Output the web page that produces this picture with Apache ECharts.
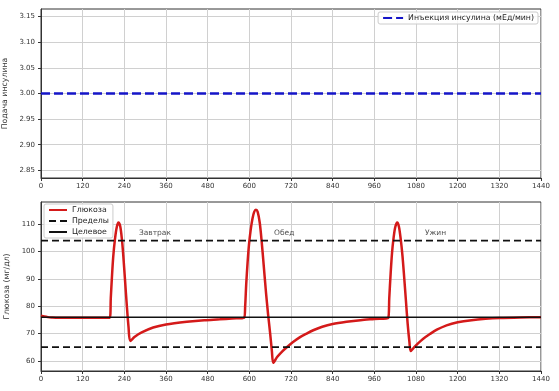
<!DOCTYPE html>
<html>
<head>
<meta charset="utf-8">
<script src="https://cdn.jsdelivr.net/npm/echarts@6/dist/echarts.min.js"></script>
<style>
html,body{margin:0;padding:0;background:#fff;}
#chart{width:559px;height:391px;}
</style>
</head>
<body>
<div id="chart"></div>
<script>
// ---- data ----
const xTicks = [0,120,240,360,480,600,720,840,960,1080,1200,1320,1440];
const insulinTicks = [2.85,2.90,2.95,3.00,3.05,3.10,3.15];
const glucoseTicks = [60,70,80,90,100,110];

const insulinTime = [0, 1440];
const insulinRate = [3.0, 3.0];

const glucoseTime = [
  0,10,20,30,50,100,150,198,
  201,204,208,213,218,223,228,233,237,242,247,252,257,
  270,290,323,360,420,470,515,550,585,
  588,591,595,599,604,609,614,619,624,630,636,642,648,654,660,665,669,
  680,695,708,725,745,765,784,810,840,880,920,960,1000,
  1003,1007,1011,1015,1020,1026,1031,1036,1041,1046,1051,1056,1061,1065,
  1075,1085,1100,1120,1140,1168,1200,1240,1280,1320,1380,1440
];
const glucoseValue = [
  76.5,76.2,76.0,75.9,75.8,75.8,75.8,75.8,
  83,90,98,104.5,108.8,110.6,109.3,104.5,98.5,89.5,80.5,72.5,67.3,
  68.8,70.4,72.2,73.3,74.3,74.9,75.2,75.5,75.8,
  80,88,96,102.5,108,112,114.5,115.3,114.5,110.5,103,94,85,77,70,63.5,59.3,
  61.4,63.5,65.0,66.8,68.6,70.0,71.2,72.5,73.5,74.3,74.9,75.3,75.7,
  83,92,99.5,104.5,108.8,110.6,109,104.5,98.5,90.5,82,73.5,67,63.6,
  65.0,66.3,68.0,69.8,71.4,73.0,74.1,74.9,75.4,75.7,75.9,76.0
];

const limitLevels = [65, 104];
const targetLevel = 76;

const mealNames = ['Завтрак', 'Обед', 'Ужин'];
const mealLabelTime = [282, 671, 1106];
const mealLabelLevel = [106.8, 106.8, 106.8];

const seriesNames = {
  insulin: 'Инъекция инсулина (мЕд/мин)',
  glucose: 'Глюкоза',
  limits: 'Пределы',
  target: 'Целевое'
};

// ---- chart ----
const FONT = 'DejaVu Sans';
const chart = echarts.init(document.getElementById('chart'), null, {renderer: 'canvas'});

function xAxis(gridIndex) {
  return {
    type: 'value', gridIndex, min: 0, max: 1440, interval: 120,
    axisLine: {show: true, onZero: false, lineStyle: {color: '#333', width: 1}},
    axisTick: {show: true, length: 3, lineStyle: {color: '#333'}},
    axisLabel: {fontSize: 7, color: '#333', fontFamily: FONT, margin: 5,
      formatter: v => String(v)},
    splitLine: {show: true, lineStyle: {color: '#d0d0d0', width: 1}}
  };
}

const pairs = (xs, ys) => xs.map((x, i) => [x, ys[i]]);

const gridBase = {left: 41, right: 18, height: 169, show: true, borderColor: '#333', borderWidth: 1,
  backgroundColor: 'transparent', containLabel: false, outerBoundsMode: 'none'};

const legendBase = {
  backgroundColor: 'rgba(255,255,255,0.85)', borderColor: '#cccccc', borderWidth: 1, borderRadius: 2,
  padding: [2, 4, 2, 4], itemHeight: 8,
  itemStyle: {color: 'transparent', borderWidth: 0, opacity: 0},
  textStyle: {fontSize: 7.8, color: '#222', fontFamily: FONT}
};

const option = {
  animation: false,
  backgroundColor: '#fff',
  textStyle: {fontFamily: FONT},
  grid: [
    Object.assign({}, gridBase, {top: 9}),
    Object.assign({}, gridBase, {top: 202})
  ],
  xAxis: [xAxis(0), xAxis(1)],
  yAxis: [
    {
      type: 'value', gridIndex: 0, min: 2.835, max: 3.165,
      name: 'Подача инсулина', nameLocation: 'middle', nameGap: 25,
      nameTextStyle: {fontSize: 7.8, color: '#333', fontFamily: FONT},
      axisLine: {show: true, lineStyle: {color: '#333'}},
      axisTick: {show: true, length: 3, customValues: insulinTicks, lineStyle: {color: '#333'}},
      axisLabel: {fontSize: 7, color: '#333', fontFamily: FONT, margin: 6,
        customValues: insulinTicks, formatter: v => v.toFixed(2)},
      splitLine: {show: true, lineStyle: {color: '#d0d0d0', width: 1}}
    },
    {
      type: 'value', gridIndex: 1, min: 56.3, max: 118.1,
      name: 'Глюкоза (мг/дл)', nameLocation: 'middle', nameGap: 25,
      nameTextStyle: {fontSize: 7.8, color: '#333', fontFamily: FONT},
      axisLine: {show: true, lineStyle: {color: '#333'}},
      axisTick: {show: true, length: 3, customValues: glucoseTicks, lineStyle: {color: '#333'}},
      axisLabel: {fontSize: 7, color: '#333', fontFamily: FONT, margin: 6,
        customValues: glucoseTicks},
      splitLine: {show: true, lineStyle: {color: '#d0d0d0', width: 1}}
    }
  ],
  legend: [
    Object.assign({}, legendBase, {
      data: [seriesNames.insulin],
      right: 21, top: 12, orient: 'horizontal', itemWidth: 20, itemGap: 4
    }),
    Object.assign({}, legendBase, {
      data: [seriesNames.glucose, seriesNames.limits, seriesNames.target],
      left: 44, top: 204, orient: 'vertical', itemWidth: 18, itemGap: 3
    })
  ],
  series: [
    {
      name: seriesNames.insulin, type: 'line', xAxisIndex: 0, yAxisIndex: 0,
      data: pairs(insulinTime, insulinRate), symbol: 'none', silent: true,
      lineStyle: {color: '#1515c8', width: 2.6, type: [9, 4]},
      itemStyle: {color: '#1515c8'}
    },
    {
      name: seriesNames.glucose, type: 'line', xAxisIndex: 1, yAxisIndex: 1,
      data: pairs(glucoseTime, glucoseValue), symbol: 'none', smooth: 0.3, silent: true,
      lineStyle: {color: '#d41a1a', width: 2.5},
      itemStyle: {color: '#d41a1a'}, z: 2
    },
    ...limitLevels.map(v => ({
      name: seriesNames.limits, type: 'line', xAxisIndex: 1, yAxisIndex: 1,
      data: [[0, v], [1440, v]], symbol: 'none', silent: true,
      lineStyle: {color: '#111', width: 1.7, type: [7, 4]},
      itemStyle: {color: '#111'}, z: 3
    })),
    {
      name: seriesNames.target, type: 'line', xAxisIndex: 1, yAxisIndex: 1,
      data: [[0, targetLevel], [1440, targetLevel]], symbol: 'none', silent: true,
      lineStyle: {color: '#111', width: 1.5},
      itemStyle: {color: '#111'}, z: 3
    },
    {
      name: 'meals', type: 'scatter', xAxisIndex: 1, yAxisIndex: 1,
      symbolSize: 0, silent: true,
      data: mealNames.map((n, i) => ({name: n, value: [mealLabelTime[i], mealLabelLevel[i]]})),
      label: {show: true, position: 'right', distance: 0, formatter: p => p.name,
        fontSize: 7.5, color: '#222', fontFamily: FONT}
    }
  ]
};
chart.setOption(option);
</script>
</body>
</html>
